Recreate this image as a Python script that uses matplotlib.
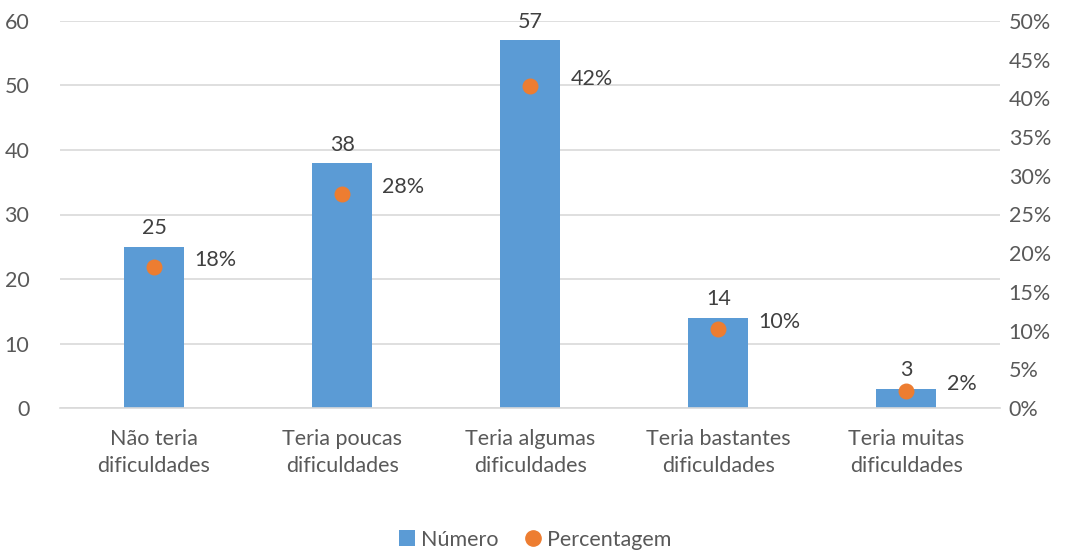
import matplotlib.pyplot as plt
from matplotlib.ticker import FuncFormatter, MultipleLocator
from matplotlib.lines import Line2D
from matplotlib.patches import Patch

plt.rcParams['font.family'] = ['Lato', 'DejaVu Sans']

categorias = ["Não teria\ndificuldades", "Teria poucas\ndificuldades", "Teria algumas\ndificuldades",
              "Teria bastantes\ndificuldades", "Teria muitas\ndificuldades"]
numero = [25, 38, 57, 14, 3]
percentagem = [18.2, 27.7, 41.6, 10.2, 2.2]
rotulos_pct = ["18%", "28%", "42%", "10%", "2%"]

azul = "#5B9BD5"
laranja = "#ED7D31"
cinza_txt = "#595959"
cinza_lbl = "#404040"
fs = 15.5

fig = plt.figure(figsize=(10.7, 5.5), dpi=100)
ax = fig.add_axes([0.056, 0.258, 0.879, 0.704])
ax2 = ax.twinx()

x = range(len(categorias))
ax.bar(x, numero, width=0.32, color=azul, zorder=2)
ax.set_xlim(-0.5, len(categorias) - 0.5)
ax.set_ylim(0, 60)
ax.yaxis.set_major_locator(MultipleLocator(10))
ax.grid(axis='y', color="#D9D9D9", linewidth=1.2, zorder=0)
ax.set_axisbelow(True)
ax.set_xticks(list(x))
ax.set_xticklabels(categorias, fontsize=fs, color=cinza_txt, linespacing=1.45)
ax.tick_params(axis='x', length=0, pad=15)
ax.tick_params(axis='y', length=0, pad=22, labelsize=fs, labelcolor=cinza_txt)
for s in ax.spines.values():
    s.set_visible(False)
ax.spines['bottom'].set_visible(True)
ax.spines['bottom'].set_color("#D9D9D9")
ax.spines['bottom'].set_linewidth(1.2)

for xi, v in zip(x, numero):
    ax.annotate(str(v), (xi, v), xytext=(0, 6), textcoords='offset points',
                ha='center', va='bottom', fontsize=fs, color=cinza_lbl)

ax2.scatter(list(x), percentagem, s=110, color=laranja, zorder=3)
ax2.set_ylim(0, 50)
ax2.yaxis.set_major_locator(MultipleLocator(5))
ax2.yaxis.set_major_formatter(FuncFormatter(lambda v, p: f"{v:.0f}%"))
ax2.tick_params(axis='y', length=0, pad=6, labelsize=fs, labelcolor=cinza_txt)
for s in ax2.spines.values():
    s.set_visible(False)

for xi, v, r in zip(x, percentagem, rotulos_pct):
    ax2.annotate(r, (xi, v), xytext=(29, 5), textcoords='offset points',
                 ha='left', va='center', fontsize=fs, color=cinza_lbl)

handles = [Patch(facecolor=azul, label="Número"),
           Line2D([], [], marker='o', linestyle='none', markersize=11,
                  markerfacecolor=laranja, markeredgecolor=laranja, label="Percentagem")]
fig.legend(handles=handles, loc='lower center', bbox_to_anchor=(0.5, -0.035), ncol=2,
           frameon=False, fontsize=fs, labelcolor=cinza_txt, handlelength=0.75,
           handleheight=0.75, handletextpad=0.3, columnspacing=1.2)

fig.savefig("out.png", dpi=100)
